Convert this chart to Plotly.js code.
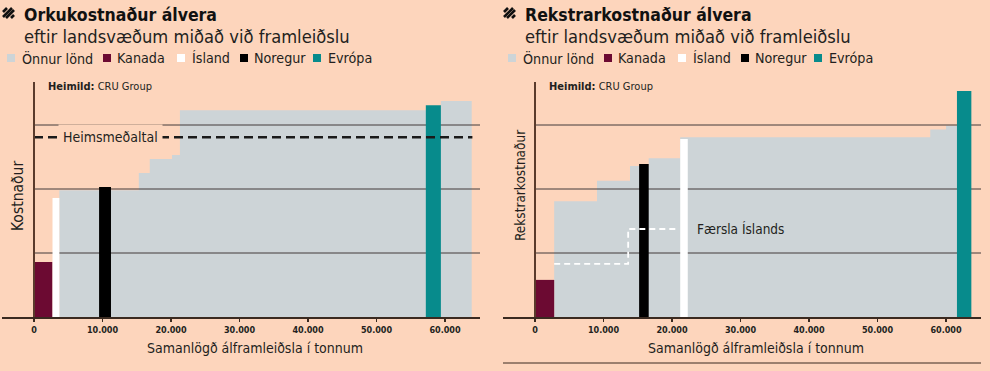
<!DOCTYPE html>
<html><head><meta charset="utf-8">
<script src="https://cdn.plot.ly/plotly-3.0.1.min.js"></script>
<style>html,body{margin:0;padding:0;background:#fdd5bc;} #chart{width:990px;height:371px;}</style>
</head><body><div id="chart"></div>
<script>
// ---- data ----
const seriesNames  = ['Önnur lönd', 'Kanada', 'Ísland', 'Noregur', 'Evrópa'];
const seriesColors = ['#cdd4d7', '#6c0a32', '#ffffff', '#000000', '#078b8c'];
const barNames = ['Kanada', 'Ísland', 'Noregur', 'Evrópa'];

// Left: Orkukostnaður (energy cost) vs cumulative production
const energyOtherX = [3700, 15300, 16900, 20150, 21300, 59400, 63900];
const energyOtherY = [1.98, 2.25, 2.47, 2.53, 3.23, 3.375, 3.375];
const energyBarStart = [0, 2700, 9500, 57200];
const energyBarEnd   = [2700, 3700, 11240, 59400];
const energyBarCost  = [0.86, 1.86, 2.03, 3.31];
const energyWorldAvg = 2.81;

// Right: Rekstrarkostnaður (operating cost)
const opOtherX = [2800, 9050, 13870, 16600, 21200, 57700, 60000, 61600];
const opOtherY = [1.81, 2.13, 2.36, 2.48, 2.81, 2.93, 2.99, 2.99];
const opBarStart = [0, 21200, 15200, 61600];
const opBarEnd   = [2800, 22300, 16600, 63700];
const opBarCost  = [0.58, 2.78, 2.39, 3.53];
const icelandShiftX = [2800, 13600, 21000];
const icelandShiftY = [0.83, 1.375, 1.375];

const xTickVals = [0, 10000, 20000, 30000, 40000, 50000, 60000];
const xTickText = ['0', '10.000', '20.000', '30.000', '40.000', '50.000', '60.000'];
const gridValues = [1, 2, 3];

// ---- styling ----
const BG = '#fdd5bc';
const INK = '#231f20';
const FONT = '"Liberation Sans Narrow", "DejaVu Sans Condensed", "Open Sans", sans-serif';
const W = 990, H = 371;
const PXPER = 68.5 / 10000;
const XMIN = -32 / PXPER, XMAX = 446 / PXPER;
const YMAX = 235 / 64;
const px = v => v / W, py = v => 1 - v / H;

const traces = [];
function panel(xa, ya, otherX, otherY, bs, be, bc) {
  traces.push({type: 'scatter', mode: 'lines', x: otherX, y: otherY, xaxis: xa, yaxis: ya,
    line: {shape: 'hv', width: 0, color: seriesColors[0]}, fill: 'tozeroy', fillcolor: seriesColors[0],
    name: seriesNames[0], showlegend: false, hoverinfo: 'skip'});
  gridValues.forEach(g => traces.push({type: 'scatter', mode: 'lines', x: [0, XMAX], y: [g, g],
    xaxis: xa, yaxis: ya, line: {color: '#433b3b', width: 1}, showlegend: false, hoverinfo: 'skip'}));
  barNames.forEach((n, i) => {
    const c = seriesColors[seriesNames.indexOf(n)];
    traces.push({type: 'scatter', mode: 'lines', xaxis: xa, yaxis: ya, name: n, showlegend: false,
      x: [bs[i], bs[i], be[i], be[i], bs[i]], y: [0, bc[i], bc[i], 0, 0],
      fill: 'toself', fillcolor: c, line: {width: 0, color: c}, hoverinfo: 'skip'});
  });
}
panel('x', 'y', energyOtherX, energyOtherY, energyBarStart, energyBarEnd, energyBarCost);
traces.push({type: 'scatter', mode: 'lines', x: [0, 64000], y: [energyWorldAvg, energyWorldAvg],
  xaxis: 'x', yaxis: 'y', line: {color: '#1a1a1a', width: 2.5, dash: '9px,5px'}, showlegend: false, hoverinfo: 'skip'});
panel('x2', 'y2', opOtherX, opOtherY, opBarStart, opBarEnd, opBarCost);
traces.push({type: 'scatter', mode: 'lines', x: icelandShiftX, y: icelandShiftY,
  xaxis: 'x2', yaxis: 'y2', line: {color: '#ffffff', width: 1.8, dash: '6px,4px', shape: 'hv'}, showlegend: false, hoverinfo: 'skip'});

function xaxisDef(x0) {
  return {domain: [px(x0), px(x0 + 478)], range: [XMIN, XMAX], showgrid: false, zeroline: false,
    showline: true, linecolor: '#3a2a20', linewidth: 2, ticks: 'outside', ticklen: 3, tickwidth: 1.5,
    tickcolor: '#3a2a20', tickvals: xTickVals, ticktext: xTickText,
    tickfont: {family: FONT, size: 9, color: INK, weight: 'bold'}, fixedrange: true};
}
function yaxisDef(xPos) {
  return {domain: [py(317), py(82)], range: [0, YMAX], anchor: 'free', position: px(xPos),
    showgrid: false, zeroline: false, showline: true, linecolor: '#5a3b2c', linewidth: 2,
    showticklabels: false, ticks: '', fixedrange: true};
}

const annotations = [];
const shapes = [];
const titles = ['Orkukostnaður álvera', 'Rekstrarkostnaður álvera'];
const yTitles = ['Kostnaður', 'Rekstrarkostnaður'];
function txt(x, y, text, size, extra) {
  annotations.push(Object.assign({xref: 'paper', yref: 'paper', x: px(x), y: py(y), text: text,
    showarrow: false, xanchor: 'left', yanchor: 'middle', font: {family: FONT, size: size, color: INK}}, extra || {}));
}
const legSq = [7, 103, 177, 240, 313];
const legTx = [20, 115, 190, 252, 326];
[0, 501].forEach((o, k) => {
  // hatched icon
  [[3, 12, 7, 8], [3, 17, 12, 8], [6, 18, 14, 10], [11, 18, 14, 15]].forEach(l =>
    shapes.push({type: 'line', xref: 'paper', yref: 'paper', x0: px(l[0] + o), y0: py(l[1]), x1: px(l[2] + o), y1: py(l[3]),
      line: {color: '#111', width: 2.6}}));
  txt(22 + o, 15, '<b>' + titles[k] + '</b>', 17.5, {font: {family: FONT, size: 17.5, color: '#111', weight: 900}});
  txt(22 + o, 37, 'eftir landsvæðum miðað við framleiðslu', 18.2);
  seriesNames.forEach((n, i) => {
    shapes.push({type: 'rect', xref: 'paper', yref: 'paper', x0: px(legSq[i] + o), x1: px(legSq[i] + o + 8),
      y0: py(62), y1: py(54), fillcolor: seriesColors[i], line: {width: 0}});
    txt(legTx[i] + o, 58, n, 14.2);
  });
  txt(46 + o, 86, '<b>Heimild:</b> CRU Group', 11);
  txt([18, 520][k], [196, 186][k], yTitles[k], [15.5, 13.5][k], {xanchor: 'center', textangle: -90});
  txt([255, 756][k], 348, 'Samanlögð álframleiðsla í tonnum', 14, {xanchor: 'center'});
});
annotations.push({xref: 'x', yref: 'y', x: 11100, y: energyWorldAvg, text: 'Heimsmeðaltal', showarrow: false,
  xanchor: 'center', yanchor: 'middle', bgcolor: BG, borderpad: 4, font: {family: FONT, size: 14, color: INK}});
annotations.push({xref: 'x2', yref: 'y2', x: 23360, y: 1.375, text: 'Færsla Íslands', showarrow: false,
  xanchor: 'left', yanchor: 'middle', font: {family: FONT, size: 13.5, color: INK}});
shapes.push({type: 'line', xref: 'paper', yref: 'paper', x0: px(503), x1: px(981), y0: py(363), y1: py(363),
  line: {color: '#3a2a20', width: 1}});

const layout = {
  width: W, height: H, margin: {l: 0, r: 0, t: 0, b: 0}, paper_bgcolor: BG, plot_bgcolor: 'rgba(0,0,0,0)',
  showlegend: false, font: {family: FONT, color: INK},
  xaxis: Object.assign(xaxisDef(2), {anchor: 'y'}),
  yaxis: yaxisDef(34),
  xaxis2: Object.assign(xaxisDef(503), {anchor: 'y2'}),
  yaxis2: yaxisDef(535),
  annotations: annotations, shapes: shapes
};
Plotly.newPlot('chart', traces, layout, {staticPlot: true, displayModeBar: false});
</script></body></html>
